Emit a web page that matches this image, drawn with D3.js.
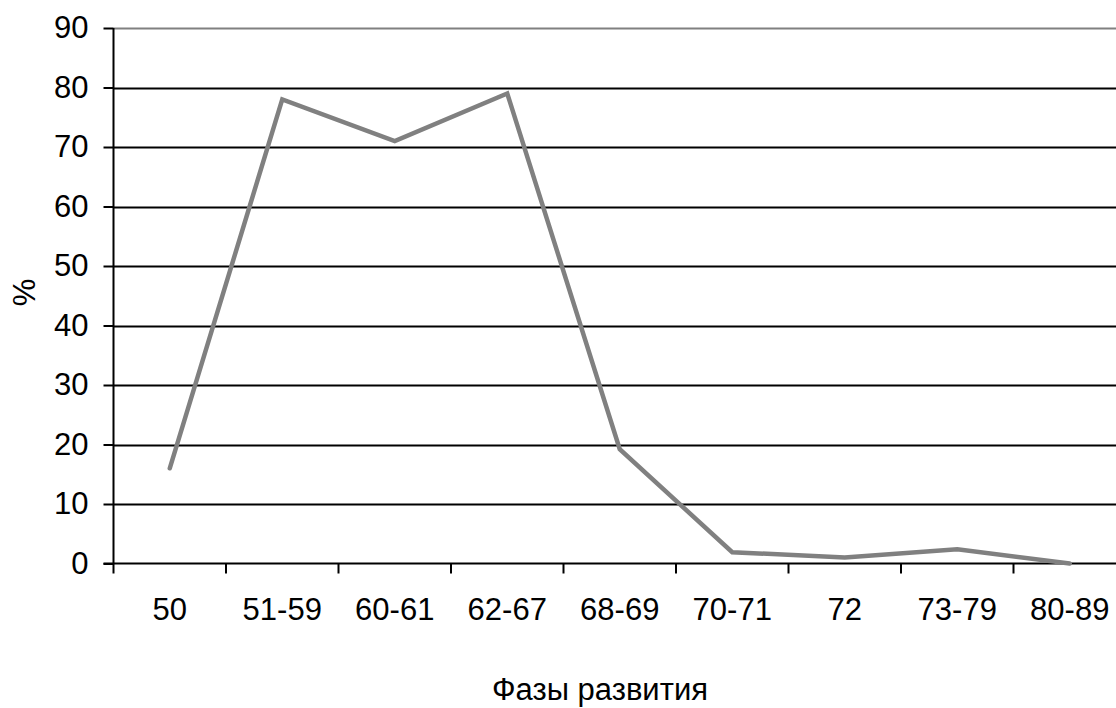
<!DOCTYPE html>
<html><head><meta charset="utf-8">
<script src="https://cdn.jsdelivr.net/npm/d3@7"></script>
<style>body{margin:0;background:#fff;overflow:hidden}text{font-family:"Liberation Sans",Arial,sans-serif}</style>
</head><body><svg id="c" width="1116" height="708"></svg>
<script>
const categories = ["50","51-59","60-61","62-67","68-69","70-71","72","73-79","80-89"];
const values = [16, 78, 71, 79, 19.2, 1.9, 1, 2.4, 0];
const yTicks = [0,10,20,30,40,50,60,70,80,90];
const xTitle = "Фазы развития";
const yTitle = "%";

const FS = 31;
const svg = d3.select("#c");
const L = 113.5, R = 1126, T = 28, B = 563.5;
const x = d3.scaleBand().domain(categories).range([L, R]);
const y = d3.scaleLinear().domain([0, 90]).range([B, T]);

// gridlines
svg.append("g").selectAll("line").data(yTicks.filter(d => d > 0)).join("line")
  .attr("x1", L).attr("x2", 1116)
  .attr("y1", d => Math.round(y(d)) + 0.5).attr("y2", d => Math.round(y(d)) + 0.5)
  .attr("stroke", d => d === 90 ? "#808080" : "#000").attr("stroke-width", 2);

// y axis
const ya = svg.append("g").attr("transform", `translate(${L},0)`)
  .call(d3.axisLeft(y).tickValues(yTicks).tickSize(10).tickPadding(15));
ya.select(".domain").attr("stroke", "#000").attr("stroke-width", 2).attr("d", `M0,${T}V${B}`);
ya.selectAll(".tick line").attr("stroke", "#000").attr("stroke-width", 2);
ya.attr("font-size", FS).attr("font-family", "Liberation Sans, Arial, sans-serif");
ya.selectAll(".tick text").attr("fill", "#000");

// x axis
const xa = svg.append("g").attr("transform", `translate(0,${B})`)
  .call(d3.axisBottom(x).tickSize(0).tickPadding(34));
xa.select(".domain").remove();
xa.attr("font-size", FS).attr("font-family", "Liberation Sans, Arial, sans-serif");
xa.selectAll(".tick text").attr("fill", "#000");
svg.append("line").attr("x1", L - 10).attr("x2", 1116).attr("y1", B).attr("y2", B)
  .attr("stroke", "#000").attr("stroke-width", 2);
svg.append("g").selectAll("line").data(categories).join("line")
  .attr("x1", d => x(d)).attr("x2", d => x(d)).attr("y1", B).attr("y2", B + 10)
  .attr("stroke", "#000").attr("stroke-width", 2);

// line
const line = d3.line().x((d, i) => x(categories[i]) + x.bandwidth() / 2).y(d => y(d));
svg.append("path").datum(values).attr("d", line)
  .attr("fill", "none").attr("stroke", "#808080").attr("stroke-width", 4.5)
  .attr("stroke-linejoin", "miter").attr("stroke-linecap", "round");

// titles
svg.append("text").attr("x", 600).attr("y", 700).attr("text-anchor", "middle")
  .attr("font-size", FS).attr("fill", "#000").text(xTitle);
svg.append("text").attr("transform", "translate(35,292.5) rotate(-90)").attr("text-anchor", "middle")
  .attr("font-size", FS).attr("fill", "#000").text(yTitle);
</script></body></html>
